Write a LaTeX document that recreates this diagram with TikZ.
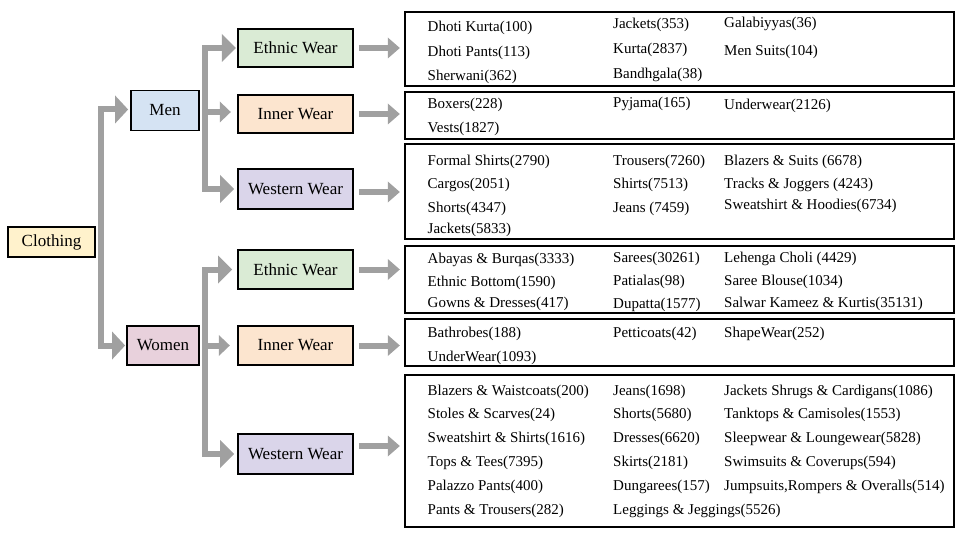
\documentclass[tikz,border=0pt]{standalone}
\usepackage{fontspec}
\setmainfont{Liberation Serif}
\usetikzlibrary{arrows.meta}
\definecolor{clothc}{HTML}{FFF2CC}
\definecolor{menc}{HTML}{D5E3F3}
\definecolor{womenc}{HTML}{E8D1DC}
\definecolor{ethc}{HTML}{DAEBD5}
\definecolor{innc}{HTML}{FCE5CF}
\definecolor{wesc}{HTML}{DAD5EA}
\definecolor{arrowgray}{HTML}{A0A0A0}
\tikzset{
  catbox/.style={draw=black, line width=1.8pt, inner sep=0pt, minimum width=115pt, font=\fontsize{17}{20}\selectfont},
  listbox/.style={draw=black, line width=1.8pt, inner sep=0pt, minimum width=549pt},
  item/.style={anchor=base west, inner sep=0pt, font=\fontsize{15}{18}\selectfont},
  conn/.style={draw=arrowgray, line width=6pt, line join=miter},
  headbig/.style={-{Triangle[length=13pt,width=28pt,line width=0pt]}},
  headmid/.style={-{Triangle[length=14pt,width=28pt,line width=0pt]}},
  headsml/.style={-{Triangle[length=11pt,width=21pt,line width=0pt]}},
  headlst/.style={-{Triangle[length=12pt,width=21pt,line width=0pt]}},
}
\begin{document}
\begin{tikzpicture}[x=1pt,y=-1pt]
\useasboundingbox[fill=white] (0,0) rectangle (960,540);

% main nodes
\node[catbox, fill=clothc, minimum width=87pt, minimum height=30pt] (clothing) at (51.5,242) {Clothing};
\node[catbox, fill=menc, minimum width=68pt, minimum height=40pt] (men) at (165,110.5) {Men};
\node[catbox, fill=womenc, minimum width=72pt, minimum height=39pt] (women) at (163,345.5) {Women};

\node[catbox, fill=ethc, minimum height=38pt] (mEth) at (295.5,48) {Ethnic Wear};
\node[catbox, fill=innc, minimum height=38pt] (mInn) at (295.5,114) {Inner Wear};
\node[catbox, fill=wesc, minimum height=40pt] (mWes) at (295.5,189) {Western Wear};
\node[catbox, fill=ethc, minimum height=39pt] (wEth) at (295.5,269.5) {Ethnic Wear};
\node[catbox, fill=innc, minimum height=39pt] (wInn) at (295.5,345.5) {Inner Wear};
\node[catbox, fill=wesc, minimum height=40pt] (wWes) at (295.5,454) {Western Wear};

% list boxes
\node[listbox, minimum height=74pt] (lME) at (679.5,49) {};
\node[listbox, minimum height=47pt] (lMI) at (679.5,115.5) {};
\node[listbox, minimum height=95pt] (lMW) at (679.5,191.5) {};
\node[listbox, minimum height=67pt] (lWE) at (679.5,279.5) {};
\node[listbox, minimum height=47pt] (lWI) at (679.5,342.5) {};
\node[listbox, minimum height=152pt] (lWW) at (679.5,451) {};

% connectors
\draw[conn, headbig, shorten >=2pt] ([xshift=5pt]clothing.east) |- ([yshift=1pt]men.west);
\draw[conn, headbig, shorten >=1pt] ([xshift=5pt]clothing.east) |- (women.west);

\draw[conn, headmid, shorten >=1.3pt] ([xshift=5.5pt]men.east) |- (mEth.west);
\draw[conn, headmid, shorten >=3pt] ([xshift=5.5pt]men.east) |- (mWes.west);
\draw[conn, headsml, shorten >=6.3pt] ([xshift=3pt,yshift=-1.5pt]men.east) -- ([yshift=-1.5pt]men.east -| mInn.west);

\draw[conn, headmid, shorten >=5pt] ([xshift=5.5pt]women.east) |- (wEth.west);
\draw[conn, headmid, shorten >=3pt] ([xshift=5.5pt]women.east) |- (wWes.west);
\draw[conn, headsml, shorten >=7.3pt] ([xshift=3pt]women.east) -- (women.east -| wInn.west);

\draw[conn, headlst, shorten >=4.3pt] ([xshift=5pt]mEth.east) -- (mEth.east -| lME.west);
\draw[conn, headlst, shorten >=4.3pt] ([xshift=5pt]mInn.east) -- (mInn.east -| lMI.west);
\draw[conn, headlst, shorten >=4.3pt] ([xshift=5pt,yshift=-3pt]mWes.east) -- ([yshift=-3pt]mWes.east -| lMW.west);
\draw[conn, headlst, shorten >=4.3pt] ([xshift=5pt]wEth.east) -- (wEth.east -| lWE.west);
\draw[conn, headlst, shorten >=4.3pt] ([xshift=5pt]wInn.east) -- (wInn.east -| lWI.west);
\draw[conn, headlst, shorten >=4.3pt] ([xshift=5pt,yshift=8pt]wWes.east) -- ([yshift=8pt]wWes.east -| lWW.west);

% Men ethnic
\node[item] (me1) at (427.5,32) {Dhoti Kurta(100)};
\node[item] (me2) at (427.5,57) {Dhoti Pants(113)};
\node[item] (me3) at (427.5,81) {Sherwani(362)};
\node[item] (me4) at (613,29) {Jackets(353)};
\node[item] (me5) at (613,54) {Kurta(2837)};
\node[item] (me6) at (613,79) {Bandhgala(38)};
\node[item] (me7) at (724,28) {Galabiyyas(36)};
\node[item] (me8) at (724,56) {Men Suits(104)};

% Men inner
\node[item] (mi1) at (427.5,109) {Boxers(228)};
\node[item] (mi2) at (427.5,133) {Vests(1827)};
\node[item] (mi3) at (613,108) {Pyjama(165)};
\node[item] (mi4) at (724,110) {Underwear(2126)};

% Men western
\node[item] (mw1) at (427.5,166) {Formal Shirts(2790)};
\node[item] (mw2) at (427.5,188) {Cargos(2051)};
\node[item] (mw3) at (427.5,212) {Shorts(4347)};
\node[item] (mw4) at (427.5,233) {Jackets(5833)};
\node[item] (mw5) at (613,166) {Trousers(7260)};
\node[item] (mw6) at (613,188) {Shirts(7513)};
\node[item] (mw7) at (613,212) {Jeans (7459)};
\node[item] (mw8) at (724,166) {Blazers \& Suits (6678)};
\node[item] (mw9) at (724,188) {Tracks \& Joggers (4243)};
\node[item] (mw10) at (724,209) {Sweatshirt \& Hoodies(6734)};

% Women ethnic
\node[item] (we1) at (427.5,263.5) {Abayas \& Burqas(3333)};
\node[item] (we2) at (427.5,286) {Ethnic Bottom(1590)};
\node[item] (we3) at (427.5,307.5) {Gowns \& Dresses(417)};
\node[item] (we4) at (613,262.5) {Sarees(30261)};
\node[item] (we5) at (613,285) {Patialas(98)};
\node[item] (we6) at (613,308) {Dupatta(1577)};
\node[item] (we7) at (724,262) {Lehenga Choli (4429)};
\node[item] (we8) at (724,285) {Saree Blouse(1034)};
\node[item] (we9) at (724,307.5) {Salwar Kameez \& Kurtis(35131)};

% Women inner
\node[item] (wi1) at (427.5,337.5) {Bathrobes(188)};
\node[item] (wi2) at (427.5,361) {UnderWear(1093)};
\node[item] (wi3) at (613,337.5) {Petticoats(42)};
\node[item] (wi4) at (724,337.5) {ShapeWear(252)};

% Women western
\node[item] (ww1) at (427.5,395) {Blazers \& Waistcoats(200)};
\node[item] (ww2) at (427.5,418.5) {Stoles \& Scarves(24)};
\node[item] (ww3) at (427.5,442.5) {Sweatshirt \& Shirts(1616)};
\node[item] (ww4) at (427.5,466.5) {Tops \& Tees(7395)};
\node[item] (ww5) at (427.5,490.5) {Palazzo Pants(400)};
\node[item] (ww6) at (427.5,514.5) {Pants \& Trousers(282)};
\node[item] (ww7) at (613,395) {Jeans(1698)};
\node[item] (ww8) at (613,418.5) {Shorts(5680)};
\node[item] (ww9) at (613,442.5) {Dresses(6620)};
\node[item] (ww10) at (613,466.5) {Skirts(2181)};
\node[item] (ww11) at (613,490.5) {Dungarees(157)};
\node[item] (ww12) at (613,514.5) {Leggings \& Jeggings(5526)};
\node[item] (ww13) at (724,395) {Jackets Shrugs \& Cardigans(1086)};
\node[item] (ww14) at (724,418.5) {Tanktops \& Camisoles(1553)};
\node[item] (ww15) at (724,442.5) {Sleepwear \& Loungewear(5828)};
\node[item] (ww16) at (724,466.5) {Swimsuits \& Coverups(594)};
\node[item] (ww17) at (724,490.5) {Jumpsuits,Rompers \& Overalls(514)};
\end{tikzpicture}
\end{document}
